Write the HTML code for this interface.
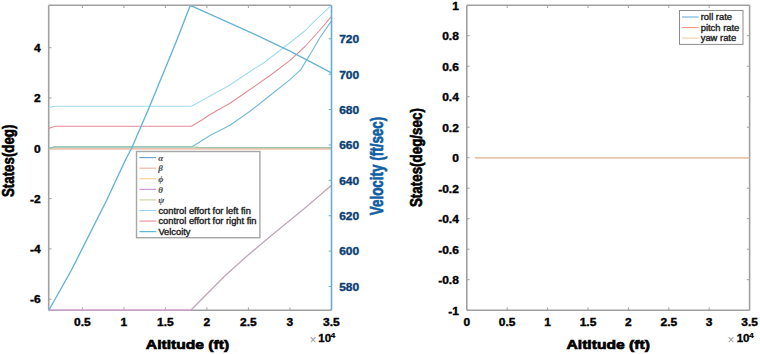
<!DOCTYPE html>
<html><head><meta charset="utf-8"><style>
html,body{margin:0;padding:0;background:#fff;}
svg{display:block;font-family:"Liberation Sans", sans-serif;}
</style></head><body>
<svg width="760" height="354" viewBox="0 0 760 354">
<rect width="760" height="354" fill="#fff"/>
<defs><clipPath id="cl"><rect x="48.20" y="4.70" width="283.80" height="306.00"/></clipPath>
<clipPath id="cr"><rect x="466.80" y="5.20" width="282.80" height="305.00"/></clipPath></defs>
<line x1="48.70" y1="5.20" x2="331.50" y2="5.20" stroke="#a0a0a0" stroke-width="1.6" />
<line x1="48.70" y1="310.20" x2="331.50" y2="310.20" stroke="#a0a0a0" stroke-width="1.6" />
<line x1="48.70" y1="5.20" x2="48.70" y2="310.20" stroke="#a0a0a0" stroke-width="1.6" />
<line x1="82.40" y1="310.20" x2="82.40" y2="307.40" stroke="#a0a0a0" stroke-width="1" />
<line x1="82.40" y1="5.20" x2="82.40" y2="8.00" stroke="#a0a0a0" stroke-width="1" />
<line x1="123.90" y1="310.20" x2="123.90" y2="307.40" stroke="#a0a0a0" stroke-width="1" />
<line x1="123.90" y1="5.20" x2="123.90" y2="8.00" stroke="#a0a0a0" stroke-width="1" />
<line x1="165.40" y1="310.20" x2="165.40" y2="307.40" stroke="#a0a0a0" stroke-width="1" />
<line x1="165.40" y1="5.20" x2="165.40" y2="8.00" stroke="#a0a0a0" stroke-width="1" />
<line x1="206.90" y1="310.20" x2="206.90" y2="307.40" stroke="#a0a0a0" stroke-width="1" />
<line x1="206.90" y1="5.20" x2="206.90" y2="8.00" stroke="#a0a0a0" stroke-width="1" />
<line x1="248.40" y1="310.20" x2="248.40" y2="307.40" stroke="#a0a0a0" stroke-width="1" />
<line x1="248.40" y1="5.20" x2="248.40" y2="8.00" stroke="#a0a0a0" stroke-width="1" />
<line x1="289.90" y1="310.20" x2="289.90" y2="307.40" stroke="#a0a0a0" stroke-width="1" />
<line x1="289.90" y1="5.20" x2="289.90" y2="8.00" stroke="#a0a0a0" stroke-width="1" />
<line x1="48.70" y1="47.70" x2="51.50" y2="47.70" stroke="#a0a0a0" stroke-width="1" />
<line x1="48.70" y1="98.00" x2="51.50" y2="98.00" stroke="#a0a0a0" stroke-width="1" />
<line x1="48.70" y1="148.30" x2="51.50" y2="148.30" stroke="#a0a0a0" stroke-width="1" />
<line x1="48.70" y1="198.60" x2="51.50" y2="198.60" stroke="#a0a0a0" stroke-width="1" />
<line x1="48.70" y1="248.90" x2="51.50" y2="248.90" stroke="#a0a0a0" stroke-width="1" />
<line x1="48.70" y1="299.20" x2="51.50" y2="299.20" stroke="#a0a0a0" stroke-width="1" />
<line x1="331.50" y1="38.80" x2="328.70" y2="38.80" stroke="#6aaccc" stroke-width="1" />
<line x1="331.50" y1="74.18" x2="328.70" y2="74.18" stroke="#6aaccc" stroke-width="1" />
<line x1="331.50" y1="109.56" x2="328.70" y2="109.56" stroke="#6aaccc" stroke-width="1" />
<line x1="331.50" y1="144.94" x2="328.70" y2="144.94" stroke="#6aaccc" stroke-width="1" />
<line x1="331.50" y1="180.32" x2="328.70" y2="180.32" stroke="#6aaccc" stroke-width="1" />
<line x1="331.50" y1="215.70" x2="328.70" y2="215.70" stroke="#6aaccc" stroke-width="1" />
<line x1="331.50" y1="251.08" x2="328.70" y2="251.08" stroke="#6aaccc" stroke-width="1" />
<line x1="331.50" y1="286.46" x2="328.70" y2="286.46" stroke="#6aaccc" stroke-width="1" />
<g clip-path="url(#cl)">
<polyline points="48.70,148.90 331.50,148.90" fill="none" stroke="#eec3ae" stroke-width="1.6" stroke-linejoin="round" />
<polyline points="48.70,310.00 191.00,310.00" fill="none" stroke="#dcaad6" stroke-width="1.4" stroke-linejoin="round" />
<polyline points="191.00,310.00 225.00,275.70 247.60,255.60 270.20,236.40 292.80,218.10 305.00,207.90 331.50,185.20" fill="none" stroke="#bfa6b9" stroke-width="1.3" stroke-linejoin="round" />
<polyline points="48.70,148.30 55.00,146.80 192.00,146.80 210.00,135.50 230.00,125.20 250.00,111.30 270.00,95.50 290.00,79.60 300.80,69.60 310.00,54.50 320.00,37.50 331.50,20.80" fill="none" stroke="#78bcd8" stroke-width="1.2" stroke-linejoin="round" />
<polyline points="48.70,148.40 55.00,146.90 192.00,146.90 200.00,147.70 331.50,147.70" fill="none" stroke="#9cc6a6" stroke-width="1.2" stroke-linejoin="round" />
<polyline points="48.70,128.60 55.00,126.30 191.50,126.30 201.90,120.00 210.00,114.50 230.00,103.20 250.00,89.50 270.00,75.50 290.00,60.40 305.00,46.50 320.00,30.00 331.50,16.40" fill="none" stroke="#e68c98" stroke-width="1.1" stroke-linejoin="round" />
<polyline points="48.70,107.60 55.00,106.30 191.50,106.30 210.00,96.00 230.00,85.00 250.00,71.50 265.00,62.00 283.60,47.50 295.00,38.80 305.00,30.80 313.00,22.60 331.50,5.20" fill="none" stroke="#a3dbef" stroke-width="1.1" stroke-linejoin="round" />
<polyline points="48.70,310.50 71.50,270.00 106.80,200.00 125.40,160.00 131.70,148.00 149.80,106.00 176.90,40.00 190.30,5.30 246.00,30.30 290.00,51.20 331.50,72.80" fill="none" stroke="#66b4d6" stroke-width="1.4" stroke-linejoin="round" />
</g>
<line x1="331.50" y1="5.20" x2="331.50" y2="310.20" stroke="#6aaccc" stroke-width="1.6" />
<rect x="136.5" y="151.5" width="123.4" height="86.2" fill="#fff" stroke="#a6a6a6" stroke-width="1.4"/>
<line x1="139.40" y1="157.60" x2="156.20" y2="157.60" stroke="#5fa0d6" stroke-width="1.1" />
<text x="158.3" y="160.80" font-family="Liberation Serif" font-style="italic" font-weight="bold" font-size="9" fill="#444">α</text>
<line x1="139.40" y1="168.18" x2="156.20" y2="168.18" stroke="#eeb09a" stroke-width="1.1" />
<text x="158.3" y="171.38" font-family="Liberation Serif" font-style="italic" font-weight="bold" font-size="9" fill="#444">β</text>
<line x1="139.40" y1="178.76" x2="156.20" y2="178.76" stroke="#f3cf8a" stroke-width="1.1" />
<text x="158.3" y="181.96" font-family="Liberation Serif" font-style="italic" font-weight="bold" font-size="9" fill="#444">ϕ</text>
<line x1="139.40" y1="189.34" x2="156.20" y2="189.34" stroke="#cf8fcf" stroke-width="1.1" />
<text x="158.3" y="192.54" font-family="Liberation Serif" font-style="italic" font-weight="bold" font-size="9" fill="#444">θ</text>
<line x1="139.40" y1="199.92" x2="156.20" y2="199.92" stroke="#c8d3a0" stroke-width="1.1" />
<text x="158.3" y="203.12" font-family="Liberation Serif" font-style="italic" font-weight="bold" font-size="9" fill="#444">ψ</text>
<line x1="139.40" y1="210.50" x2="156.20" y2="210.50" stroke="#98d6ee" stroke-width="1.1" />
<text transform="translate(158.40,213.50) scale(1.11,1)" font-size="8.4" font-weight="normal" fill="#222" text-anchor="start" stroke="#222" stroke-width="0.35" >control effort for left fin</text>
<line x1="139.40" y1="221.08" x2="156.20" y2="221.08" stroke="#e68c98" stroke-width="1.1" />
<text transform="translate(158.40,224.08) scale(1.11,1)" font-size="8.4" font-weight="normal" fill="#222" text-anchor="start" stroke="#222" stroke-width="0.35" >control effort for right fin</text>
<line x1="139.40" y1="231.66" x2="156.20" y2="231.66" stroke="#4eaed2" stroke-width="1.1" />
<text transform="translate(158.40,234.66) scale(1.11,1)" font-size="8.4" font-weight="normal" fill="#222" text-anchor="start" stroke="#222" stroke-width="0.35" >Velcoity</text>
<text transform="translate(82.40,325.60) scale(1.2,1)" font-size="10" font-weight="bold" fill="#000" text-anchor="middle" stroke="#000" stroke-width="0.35" >0.5</text>
<text transform="translate(123.90,325.60) scale(1.2,1)" font-size="10" font-weight="bold" fill="#000" text-anchor="middle" stroke="#000" stroke-width="0.35" >1</text>
<text transform="translate(165.40,325.60) scale(1.2,1)" font-size="10" font-weight="bold" fill="#000" text-anchor="middle" stroke="#000" stroke-width="0.35" >1.5</text>
<text transform="translate(206.90,325.60) scale(1.2,1)" font-size="10" font-weight="bold" fill="#000" text-anchor="middle" stroke="#000" stroke-width="0.35" >2</text>
<text transform="translate(248.40,325.60) scale(1.2,1)" font-size="10" font-weight="bold" fill="#000" text-anchor="middle" stroke="#000" stroke-width="0.35" >2.5</text>
<text transform="translate(289.90,325.60) scale(1.2,1)" font-size="10" font-weight="bold" fill="#000" text-anchor="middle" stroke="#000" stroke-width="0.35" >3</text>
<text transform="translate(331.40,325.60) scale(1.2,1)" font-size="10" font-weight="bold" fill="#000" text-anchor="middle" stroke="#000" stroke-width="0.35" >3.5</text>
<text transform="translate(40.60,51.90) scale(1.2,1)" font-size="10" font-weight="bold" fill="#000" text-anchor="end" stroke="#000" stroke-width="0.35" >4</text>
<text transform="translate(40.60,102.20) scale(1.2,1)" font-size="10" font-weight="bold" fill="#000" text-anchor="end" stroke="#000" stroke-width="0.35" >2</text>
<text transform="translate(40.60,152.50) scale(1.2,1)" font-size="10" font-weight="bold" fill="#000" text-anchor="end" stroke="#000" stroke-width="0.35" >0</text>
<text transform="translate(40.60,202.80) scale(1.2,1)" font-size="10" font-weight="bold" fill="#000" text-anchor="end" stroke="#000" stroke-width="0.35" >-2</text>
<text transform="translate(40.60,253.10) scale(1.2,1)" font-size="10" font-weight="bold" fill="#000" text-anchor="end" stroke="#000" stroke-width="0.35" >-4</text>
<text transform="translate(40.60,303.40) scale(1.2,1)" font-size="10" font-weight="bold" fill="#000" text-anchor="end" stroke="#000" stroke-width="0.35" >-6</text>
<text transform="translate(339.20,43.20) scale(1.2,1)" font-size="10" font-weight="bold" fill="#0d3f73" text-anchor="start" stroke="#0d3f73" stroke-width="0.35" >720</text>
<text transform="translate(339.20,78.58) scale(1.2,1)" font-size="10" font-weight="bold" fill="#0d3f73" text-anchor="start" stroke="#0d3f73" stroke-width="0.35" >700</text>
<text transform="translate(339.20,113.96) scale(1.2,1)" font-size="10" font-weight="bold" fill="#0d3f73" text-anchor="start" stroke="#0d3f73" stroke-width="0.35" >680</text>
<text transform="translate(339.20,149.34) scale(1.2,1)" font-size="10" font-weight="bold" fill="#0d3f73" text-anchor="start" stroke="#0d3f73" stroke-width="0.35" >660</text>
<text transform="translate(339.20,184.72) scale(1.2,1)" font-size="10" font-weight="bold" fill="#0d3f73" text-anchor="start" stroke="#0d3f73" stroke-width="0.35" >640</text>
<text transform="translate(339.20,220.10) scale(1.2,1)" font-size="10" font-weight="bold" fill="#0d3f73" text-anchor="start" stroke="#0d3f73" stroke-width="0.35" >620</text>
<text transform="translate(339.20,255.48) scale(1.2,1)" font-size="10" font-weight="bold" fill="#0d3f73" text-anchor="start" stroke="#0d3f73" stroke-width="0.35" >600</text>
<text transform="translate(339.20,290.86) scale(1.2,1)" font-size="10" font-weight="bold" fill="#0d3f73" text-anchor="start" stroke="#0d3f73" stroke-width="0.35" >580</text>
<text transform="translate(187.50,349.00) scale(1.15,1)" font-size="13.6" font-weight="bold" fill="#000" text-anchor="middle" stroke="#000" stroke-width="0.7" >Altitude (ft)</text>
<text transform="translate(14.40,160.80) scale(1.25,1) rotate(-90)" font-size="13.3" font-weight="bold" fill="#000" text-anchor="middle" stroke="#000" stroke-width="0.5" >States(deg)</text>
<text transform="translate(383.40,166.00) scale(1.3,1) rotate(-90)" font-size="13.45" font-weight="bold" fill="#0f5ea3" text-anchor="middle" stroke="#0f5ea3" stroke-width="0.5" >Velocity (ft/sec)</text>
<text transform="translate(312.90,343.60) scale(1.0,1)" font-size="12" font-weight="normal" fill="#999" text-anchor="middle" >×</text>
<text transform="translate(318.30,342.00) scale(1.15,1)" font-size="10" font-weight="bold" fill="#000" text-anchor="start" stroke="#000" stroke-width="0.3" >10</text>
<text transform="translate(330.60,337.50) scale(1.1,1)" font-size="7.8" font-weight="bold" fill="#000" text-anchor="start" stroke="#000" stroke-width="0.2" >4</text>
<line x1="466.80" y1="5.20" x2="749.60" y2="5.20" stroke="#a0a0a0" stroke-width="1.6" />
<line x1="466.80" y1="310.20" x2="749.60" y2="310.20" stroke="#a0a0a0" stroke-width="1.6" />
<line x1="466.80" y1="5.20" x2="466.80" y2="310.20" stroke="#a0a0a0" stroke-width="1.6" />
<line x1="749.60" y1="5.20" x2="749.60" y2="310.20" stroke="#a0a0a0" stroke-width="1.6" />
<line x1="507.20" y1="310.20" x2="507.20" y2="307.40" stroke="#a0a0a0" stroke-width="1" />
<line x1="507.20" y1="5.20" x2="507.20" y2="8.00" stroke="#a0a0a0" stroke-width="1" />
<line x1="547.60" y1="310.20" x2="547.60" y2="307.40" stroke="#a0a0a0" stroke-width="1" />
<line x1="547.60" y1="5.20" x2="547.60" y2="8.00" stroke="#a0a0a0" stroke-width="1" />
<line x1="588.00" y1="310.20" x2="588.00" y2="307.40" stroke="#a0a0a0" stroke-width="1" />
<line x1="588.00" y1="5.20" x2="588.00" y2="8.00" stroke="#a0a0a0" stroke-width="1" />
<line x1="628.40" y1="310.20" x2="628.40" y2="307.40" stroke="#a0a0a0" stroke-width="1" />
<line x1="628.40" y1="5.20" x2="628.40" y2="8.00" stroke="#a0a0a0" stroke-width="1" />
<line x1="668.80" y1="310.20" x2="668.80" y2="307.40" stroke="#a0a0a0" stroke-width="1" />
<line x1="668.80" y1="5.20" x2="668.80" y2="8.00" stroke="#a0a0a0" stroke-width="1" />
<line x1="709.20" y1="310.20" x2="709.20" y2="307.40" stroke="#a0a0a0" stroke-width="1" />
<line x1="709.20" y1="5.20" x2="709.20" y2="8.00" stroke="#a0a0a0" stroke-width="1" />
<line x1="466.80" y1="35.70" x2="469.60" y2="35.70" stroke="#a0a0a0" stroke-width="1" />
<line x1="749.60" y1="35.70" x2="746.80" y2="35.70" stroke="#a0a0a0" stroke-width="1" />
<line x1="466.80" y1="66.20" x2="469.60" y2="66.20" stroke="#a0a0a0" stroke-width="1" />
<line x1="749.60" y1="66.20" x2="746.80" y2="66.20" stroke="#a0a0a0" stroke-width="1" />
<line x1="466.80" y1="96.70" x2="469.60" y2="96.70" stroke="#a0a0a0" stroke-width="1" />
<line x1="749.60" y1="96.70" x2="746.80" y2="96.70" stroke="#a0a0a0" stroke-width="1" />
<line x1="466.80" y1="127.20" x2="469.60" y2="127.20" stroke="#a0a0a0" stroke-width="1" />
<line x1="749.60" y1="127.20" x2="746.80" y2="127.20" stroke="#a0a0a0" stroke-width="1" />
<line x1="466.80" y1="157.70" x2="469.60" y2="157.70" stroke="#a0a0a0" stroke-width="1" />
<line x1="749.60" y1="157.70" x2="746.80" y2="157.70" stroke="#a0a0a0" stroke-width="1" />
<line x1="466.80" y1="188.20" x2="469.60" y2="188.20" stroke="#a0a0a0" stroke-width="1" />
<line x1="749.60" y1="188.20" x2="746.80" y2="188.20" stroke="#a0a0a0" stroke-width="1" />
<line x1="466.80" y1="218.70" x2="469.60" y2="218.70" stroke="#a0a0a0" stroke-width="1" />
<line x1="749.60" y1="218.70" x2="746.80" y2="218.70" stroke="#a0a0a0" stroke-width="1" />
<line x1="466.80" y1="249.20" x2="469.60" y2="249.20" stroke="#a0a0a0" stroke-width="1" />
<line x1="749.60" y1="249.20" x2="746.80" y2="249.20" stroke="#a0a0a0" stroke-width="1" />
<line x1="466.80" y1="279.70" x2="469.60" y2="279.70" stroke="#a0a0a0" stroke-width="1" />
<line x1="749.60" y1="279.70" x2="746.80" y2="279.70" stroke="#a0a0a0" stroke-width="1" />
<g clip-path="url(#cr)">
<polyline points="474.90,157.80 749.60,157.80" fill="none" stroke="#e8c4aa" stroke-width="1.7" stroke-linejoin="round" />
</g>
<text transform="translate(466.80,325.60) scale(1.2,1)" font-size="10" font-weight="bold" fill="#000" text-anchor="middle" stroke="#000" stroke-width="0.35" >0</text>
<text transform="translate(507.20,325.60) scale(1.2,1)" font-size="10" font-weight="bold" fill="#000" text-anchor="middle" stroke="#000" stroke-width="0.35" >0.5</text>
<text transform="translate(547.60,325.60) scale(1.2,1)" font-size="10" font-weight="bold" fill="#000" text-anchor="middle" stroke="#000" stroke-width="0.35" >1</text>
<text transform="translate(588.00,325.60) scale(1.2,1)" font-size="10" font-weight="bold" fill="#000" text-anchor="middle" stroke="#000" stroke-width="0.35" >1.5</text>
<text transform="translate(628.40,325.60) scale(1.2,1)" font-size="10" font-weight="bold" fill="#000" text-anchor="middle" stroke="#000" stroke-width="0.35" >2</text>
<text transform="translate(668.80,325.60) scale(1.2,1)" font-size="10" font-weight="bold" fill="#000" text-anchor="middle" stroke="#000" stroke-width="0.35" >2.5</text>
<text transform="translate(709.20,325.60) scale(1.2,1)" font-size="10" font-weight="bold" fill="#000" text-anchor="middle" stroke="#000" stroke-width="0.35" >3</text>
<text transform="translate(749.60,325.60) scale(1.2,1)" font-size="10" font-weight="bold" fill="#000" text-anchor="middle" stroke="#000" stroke-width="0.35" >3.5</text>
<text transform="translate(458.80,9.60) scale(1.2,1)" font-size="10" font-weight="bold" fill="#000" text-anchor="end" stroke="#000" stroke-width="0.35" >1</text>
<text transform="translate(458.80,40.10) scale(1.2,1)" font-size="10" font-weight="bold" fill="#000" text-anchor="end" stroke="#000" stroke-width="0.35" >0.8</text>
<text transform="translate(458.80,70.60) scale(1.2,1)" font-size="10" font-weight="bold" fill="#000" text-anchor="end" stroke="#000" stroke-width="0.35" >0.6</text>
<text transform="translate(458.80,101.10) scale(1.2,1)" font-size="10" font-weight="bold" fill="#000" text-anchor="end" stroke="#000" stroke-width="0.35" >0.4</text>
<text transform="translate(458.80,131.60) scale(1.2,1)" font-size="10" font-weight="bold" fill="#000" text-anchor="end" stroke="#000" stroke-width="0.35" >0.2</text>
<text transform="translate(458.80,162.10) scale(1.2,1)" font-size="10" font-weight="bold" fill="#000" text-anchor="end" stroke="#000" stroke-width="0.35" >0</text>
<text transform="translate(458.80,192.60) scale(1.2,1)" font-size="10" font-weight="bold" fill="#000" text-anchor="end" stroke="#000" stroke-width="0.35" >-0.2</text>
<text transform="translate(458.80,223.10) scale(1.2,1)" font-size="10" font-weight="bold" fill="#000" text-anchor="end" stroke="#000" stroke-width="0.35" >-0.4</text>
<text transform="translate(458.80,253.60) scale(1.2,1)" font-size="10" font-weight="bold" fill="#000" text-anchor="end" stroke="#000" stroke-width="0.35" >-0.6</text>
<text transform="translate(458.80,284.10) scale(1.2,1)" font-size="10" font-weight="bold" fill="#000" text-anchor="end" stroke="#000" stroke-width="0.35" >-0.8</text>
<text transform="translate(458.80,314.60) scale(1.2,1)" font-size="10" font-weight="bold" fill="#000" text-anchor="end" stroke="#000" stroke-width="0.35" >-1</text>
<text transform="translate(608.20,349.00) scale(1.15,1)" font-size="13.6" font-weight="bold" fill="#000" text-anchor="middle" stroke="#000" stroke-width="0.7" >Altitude (ft)</text>
<text transform="translate(422.30,157.60) scale(1.3,1) rotate(-90)" font-size="13.4" font-weight="bold" fill="#000" text-anchor="middle" stroke="#000" stroke-width="0.5" >States(deg/sec)</text>
<text transform="translate(731.00,343.60) scale(1.0,1)" font-size="12" font-weight="normal" fill="#999" text-anchor="middle" >×</text>
<text transform="translate(736.70,342.00) scale(1.15,1)" font-size="10" font-weight="bold" fill="#000" text-anchor="start" stroke="#000" stroke-width="0.3" >10</text>
<text transform="translate(749.10,337.50) scale(1.1,1)" font-size="7.8" font-weight="bold" fill="#000" text-anchor="start" stroke="#000" stroke-width="0.2" >4</text>
<rect x="679.5" y="10.5" width="63.5" height="33.9" fill="#fff" stroke="#8c8c8c" stroke-width="1"/>
<line x1="682.00" y1="17.00" x2="698.60" y2="17.00" stroke="#6fb0e0" stroke-width="1.1" />
<text transform="translate(700.70,20.00) scale(1.12,1)" font-size="8.4" font-weight="normal" fill="#222" text-anchor="start" stroke="#222" stroke-width="0.35" >roll rate</text>
<line x1="682.00" y1="27.55" x2="698.60" y2="27.55" stroke="#ee9a80" stroke-width="1.1" />
<text transform="translate(700.70,30.55) scale(1.12,1)" font-size="8.4" font-weight="normal" fill="#222" text-anchor="start" stroke="#222" stroke-width="0.35" >pitch rate</text>
<line x1="682.00" y1="38.10" x2="698.60" y2="38.10" stroke="#f2cfa0" stroke-width="1.1" />
<text transform="translate(700.70,41.10) scale(1.12,1)" font-size="8.4" font-weight="normal" fill="#222" text-anchor="start" stroke="#222" stroke-width="0.35" >yaw rate</text>
</svg>
</body></html>
